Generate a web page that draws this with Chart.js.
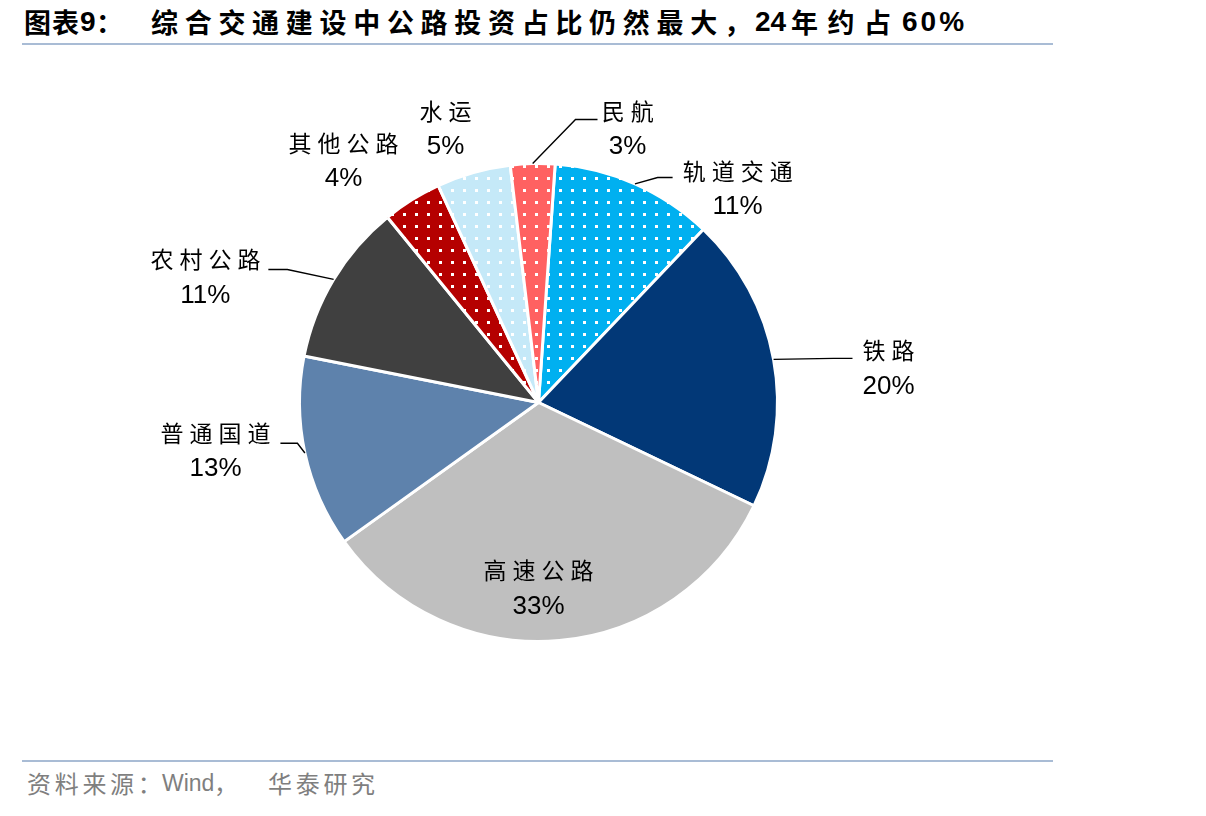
<!DOCTYPE html>
<html>
<head>
<meta charset="utf-8">
<script src="https://cdn.jsdelivr.net/npm/chart.js@4.4.1/dist/chart.umd.min.js"></script>
<style>
  body { margin: 0; width: 1206px; height: 816px; background: #fff; position: relative; overflow: hidden; }
  .t { position: absolute; top: 4px; line-height: 36px; white-space: nowrap; color: #000; font-weight: bold; }
  .cjk { font-family: "Noto Sans CJK SC", sans-serif; font-size: 27px; }
  .lat { font-family: "Liberation Sans", Arial, sans-serif; font-size: 28px; }
  .rule { position: absolute; left: 22px; width: 1031px; height: 2px; background: #a9bcd5; }
  #pie { position: absolute; left: 38px; top: 52px; }
  .s { position: absolute; top: 767px; line-height: 32px; color: #7f7f7f; white-space: nowrap;
       font-family: "Noto Sans CJK SC", sans-serif; font-size: 24px; letter-spacing: 3.7px; }
  .s.w { font-family: "Liberation Sans", Arial, sans-serif; font-size: 23px; letter-spacing: 0; }
</style>
</head>
<body>
<div class="t cjk" style="left:24px;letter-spacing:1px">图表</div>
<div class="t lat" style="left:80px">9</div>
<div class="t cjk" style="left:96px">：</div>
<div class="t cjk" style="left:151px;letter-spacing:6.7px">综合交通建设中公路投资占比仍然最大，</div>
<div class="t lat" style="left:755px">24</div>
<div class="t cjk" style="left:791px;letter-spacing:9.5px">年约占</div>
<div class="t lat" style="left:902px;letter-spacing:3px">60%</div>
<div class="rule" style="top:43px"></div>

<canvas id="pie" width="1000" height="700" style="width:1000px;height:700px"></canvas>

<div class="rule" style="top:760px"></div>
<div class="s" style="left:27px">资料来源：</div>
<div class="s w" style="left:162px">Wind</div>
<div class="s" style="left:214px">，</div>
<div class="s" style="left:268px">华泰研究</div>

<script>
// 数据（顺时针，从轨道交通开始）
const categories = ["轨道交通", "铁路", "高速公路", "普通国道", "农村公路", "其他公路", "水运", "民航"];
const shares = [11, 20, 33, 13, 11, 4, 5, 3];

// 颜色，dotted = 是否带白点
const baseColors = ["#00b0f0", "#023877", "#bfbfbf", "#5e82ac", "#404040", "#b50000", "#c5e9f8", "#ff6161"];
const dotted = [true, false, false, false, false, true, true, true];

// 标签位置：[角度(度, 顺时针从正上方), 半径倍数]
const labelSpots = [
  [42.9, 1.224], [84.3, 1.472], [180, 0.774], [261.6, 1.366],
  [290.7, 1.49], [321.2, 1.302], [341.3, 1.213], [18.0, 1.207]
];
// 引线：[拐点角度, 拐点半径倍数, 水平段长度]，null = 无引线
const leaders = [
  [27.9, 1.065, 15], [81.5, 1.248, 19], null, [260.4, 1.023, -17],
  [297.9, 1.189, -19], null, null, [7.45, 1.194, 22]
];

function dotPattern(color) {
  const c = document.createElement("canvas");
  c.width = 12; c.height = 12;
  const g = c.getContext("2d");
  g.fillStyle = color;
  g.fillRect(0, 0, 12, 12);
  g.fillStyle = "#ffffff";
  g.fillRect(5, 5, 3, 3);
  return g.createPattern(c, "repeat");
}

const fills = baseColors.map((c, i) => (dotted[i] ? dotPattern(c) : c));

function polar(cx, cy, r, deg) {
  const a = deg * Math.PI / 180;
  return [cx + r * Math.sin(a), cy - r * Math.cos(a)];
}

function drawSpaced(ctx, text, cx, y, pitch) {
  const chars = Array.from(text);
  const n = chars.length;
  chars.forEach((ch, i) => {
    ctx.fillText(ch, cx + (i - (n - 1) / 2) * pitch, y);
  });
}

const pieLabels = {
  id: "pieLabels",
  afterDatasetsDraw(chart) {
    const ctx = chart.ctx;
    const arcs = chart.getDatasetMeta(0).data;
    const total = shares.reduce((a, b) => a + b, 0);
    ctx.save();
    ctx.fillStyle = "#000";
    ctx.strokeStyle = "#000";
    ctx.lineWidth = 1.4;
    ctx.textAlign = "center";
    ctx.textBaseline = "middle";
    arcs.forEach((arc, i) => {
      const cx = arc.x, cy = arc.y, R = arc.outerRadius;
      const mid = ((arc.startAngle + arc.endAngle) / 2 + Math.PI / 2) * 180 / Math.PI;

      const ld = leaders[i];
      if (ld) {
        const p0 = polar(cx, cy, R, mid);
        const p1 = polar(cx, cy, R * ld[1], ld[0]);
        ctx.beginPath();
        ctx.moveTo(p0[0], p0[1]);
        ctx.lineTo(p1[0], p1[1]);
        ctx.lineTo(p1[0] + ld[2], p1[1]);
        ctx.stroke();
      }

      const sp = polar(cx, cy, R * labelSpots[i][1], labelSpots[i][0]);
      ctx.font = "23px 'Noto Sans CJK SC'";
      drawSpaced(ctx, categories[i], sp[0], sp[1] - 17, 29);
      ctx.font = "26px 'Liberation Sans', Arial";
      ctx.fillText(Math.round(shares[i] / total * 100) + "%", sp[0], sp[1] + 19);
    });
    ctx.restore();
  }
};

new Chart(document.getElementById("pie"), {
  type: "pie",
  data: {
    labels: categories,
    datasets: [{
      data: shares,
      backgroundColor: fills,
      borderColor: "#ffffff",
      borderWidth: 3
    }]
  },
  options: {
    responsive: false,
    animation: false,
    rotation: 4,
    layout: { padding: { left: 260, right: 259, top: 110, bottom: 109 } },
    plugins: {
      legend: { display: false },
      tooltip: { enabled: false }
    }
  },
  plugins: [pieLabels]
});
</script>
</body>
</html>
